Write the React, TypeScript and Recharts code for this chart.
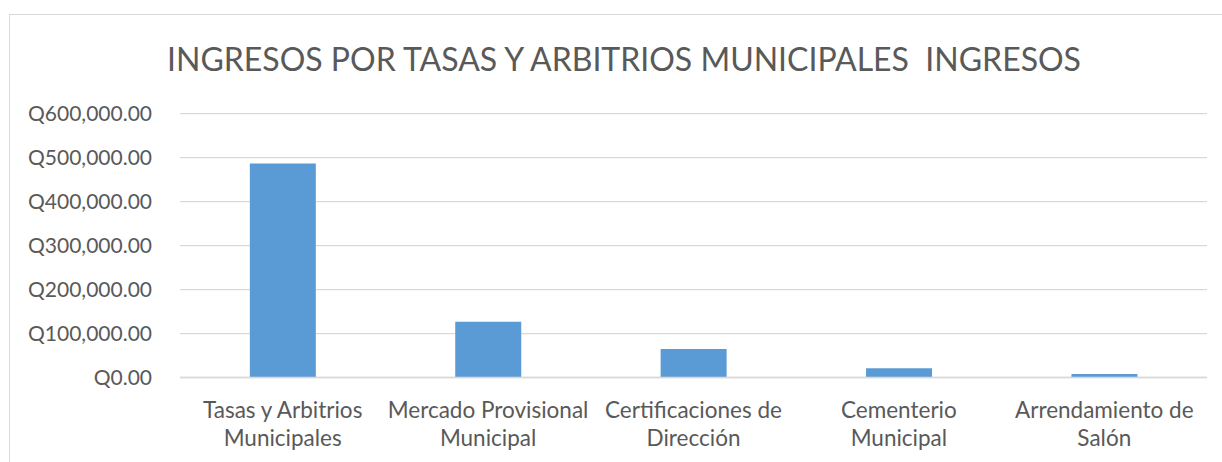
import React from "react";
import { BarChart, Bar, XAxis, YAxis, CartesianGrid } from "recharts";

const title = "INGRESOS POR TASAS Y ARBITRIOS MUNICIPALES  INGRESOS";
const categories = [
  "Tasas y Arbitrios Municipales",
  "Mercado Provisional Municipal",
  "Certificaciones de Dirección",
  "Cementerio Municipal",
  "Arrendamiento de Salón",
];
const categoryLines = [
  ["Tasas y Arbitrios", "Municipales"],
  ["Mercado Provisional", "Municipal"],
  ["Certificaciones de", "Dirección"],
  ["Cementerio", "Municipal"],
  ["Arrendamiento de", "Salón"],
];
const ingresos = [487000, 127000, 65000, 21000, 8000];
const yTicks = [0, 100000, 200000, 300000, 400000, 500000, 600000];

const data = categories.map((c, i) => ({ name: c, ingresos: ingresos[i] }));

const FONT = "Lato, 'Open Sans', sans-serif";
const TEXT = "#595959";
const GRID = "#d9d9d9";

const fmt = (v: number) =>
  "Q" + v.toLocaleString("en-US", { minimumFractionDigits: 2, maximumFractionDigits: 2 });

const YTick = (props: any) => {
  const { x, y, payload } = props;
  return (
    <text x={x} y={y} dy="0.36em" textAnchor="end" fill={TEXT} fontSize={21} fontFamily={FONT}>
      {fmt(payload.value)}
    </text>
  );
};

const XTick = (props: any) => {
  const { x, y, payload, index } = props;
  const idx = categories.indexOf(payload.value);
  const lines = categoryLines[idx >= 0 ? idx : index] || [payload.value];
  return (
    <text x={x} y={y} textAnchor="middle" fill={TEXT} fontSize={22.5} fontFamily={FONT}>
      {lines.map((l: string, i: number) => (
        <tspan key={i} x={x} dy={i === 0 ? "0.9em" : 28}>
          {l}
        </tspan>
      ))}
    </text>
  );
};

export default function App() {
  return (
    <div
      style={{
        position: "absolute",
        left: 0,
        top: 0,
        width: 1222,
        height: 462,
        overflow: "hidden",
        background: "#ffffff",
      }}
    >
      <div
        style={{
          position: "absolute",
          left: 9,
          top: 14,
          width: 1400,
          height: 600,
          border: `1.3px solid ${GRID}`,
          boxSizing: "border-box",
        }}
      />
      <div style={{ position: "absolute", left: 0, top: 0 }}>
        <BarChart
          width={1222}
          height={462}
          data={data}
          margin={{ top: 113.7, right: 15, bottom: 0, left: 0 }}
          barCategoryGap="34%"
        >
          <CartesianGrid vertical={false} stroke={GRID} strokeWidth={1.3} />
          <XAxis
            dataKey="name"
            height={84.5}
            axisLine={{ stroke: GRID, strokeWidth: 1.6 }}
            tickLine={false}
            tickSize={0}
            tickMargin={20}
            interval={0}
            tick={<XTick />}
          />
          <YAxis
            width={180}
            domain={[0, 600000]}
            ticks={yTicks}
            axisLine={false}
            tickLine={false}
            tickSize={0}
            tickMargin={28}
            interval={0}
            tick={<YTick />}
          />
          <Bar dataKey="ingresos" fill="#5b9bd5" isAnimationActive={false} />
        </BarChart>
      </div>
      <svg
        width={1222}
        height={462}
        style={{ position: "absolute", left: 0, top: 0, pointerEvents: "none" }}
      >
        <text
          x={624}
          y={71}
          textAnchor="middle"
          fill={TEXT}
          fontSize={32}
          fontFamily={FONT}
          style={{ whiteSpace: "pre" }}
        >
          {title}
        </text>
      </svg>
    </div>
  );
}
